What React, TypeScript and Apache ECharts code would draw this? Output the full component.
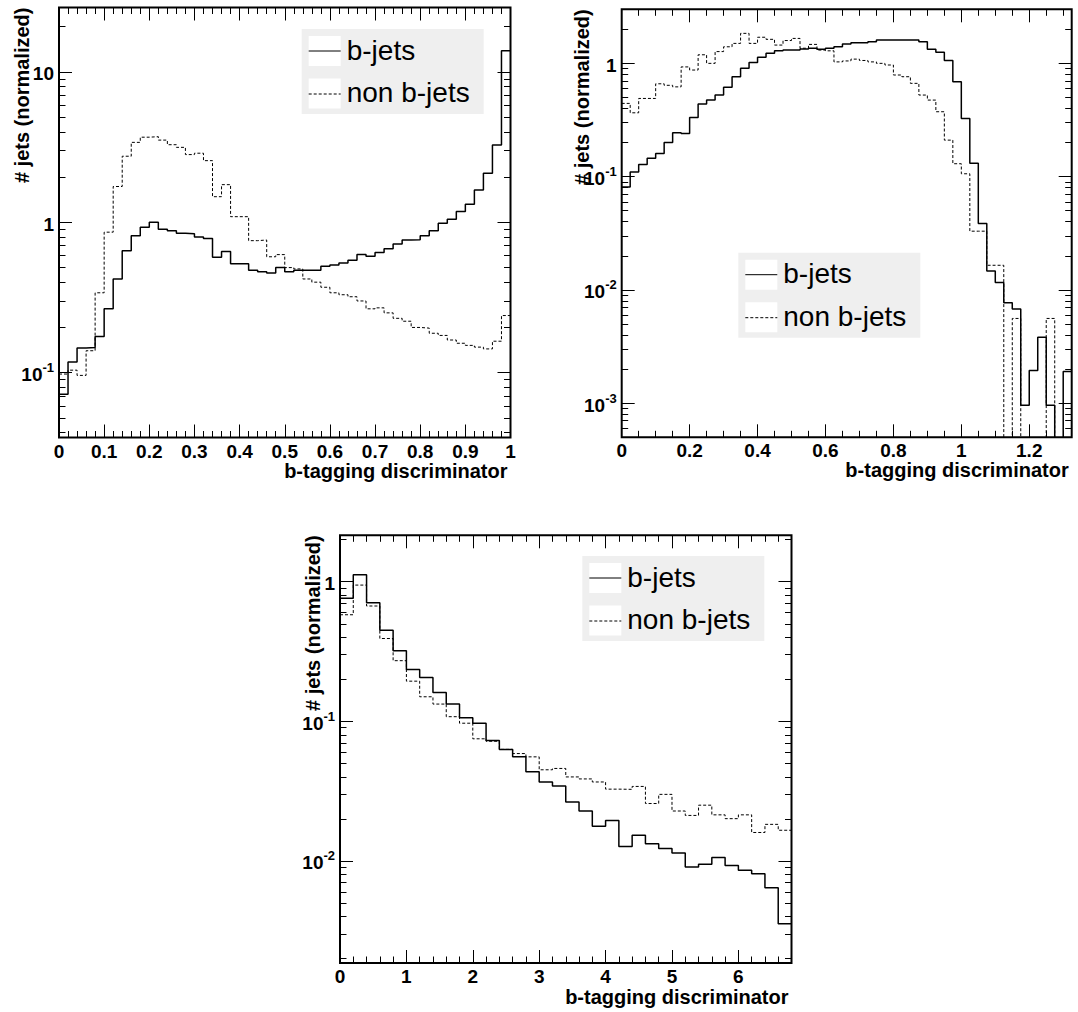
import React, { useEffect, useRef } from 'react';
import * as echarts from 'echarts';

const FONT = '"Liberation Sans", Arial, Helvetica, sans-serif';

// ---------------- Panel 1 (top left) ----------------
const p1XMin = 0;
const p1BinWidth = 0.02;
const p1BJets = [
  0.072, 0.118, 0.146, 0.147, 0.174, 0.266, 0.42, 0.648, 0.815, 0.926,
  1.0, 0.9, 0.88, 0.845, 0.84, 0.8, 0.78, 0.585, 0.64, 0.53,
  0.53, 0.48, 0.47, 0.46, 0.5, 0.47, 0.48, 0.48, 0.48, 0.51,
  0.52, 0.537, 0.56, 0.61, 0.595, 0.63, 0.668, 0.718, 0.763, 0.767,
  0.815, 0.88, 0.985, 1.05, 1.18, 1.32, 1.64, 2.12, 3.27, 13.8,
];
const p1NonBJets = [
  0.098, 0.104, 0.096, 0.14, 0.34, 0.86, 1.73, 2.75, 3.4, 3.68,
  3.71, 3.52, 3.28, 3.15, 2.82, 2.88, 2.57, 1.48, 1.78, 1.09,
  1.09, 0.755, 0.763, 0.59, 0.61, 0.5, 0.49, 0.42, 0.4, 0.37,
  0.34, 0.33, 0.32, 0.3, 0.266, 0.27, 0.25, 0.23, 0.22, 0.2,
  0.198, 0.183, 0.177, 0.165, 0.157, 0.152, 0.148, 0.144, 0.162, 0.24,
];
const p1XTickLabels = [0, 0.1, 0.2, 0.3, 0.4, 0.5, 0.6, 0.7, 0.8, 0.9, 1];
const p1YTickLabels = [0.1, 1, 10];

// ---------------- Panel 2 (top right) ----------------
const p2XMin = 0;
const p2BinWidth = 0.025;
const p2BJets = [
  0.081, 0.11, 0.128, 0.145, 0.16, 0.2, 0.244, 0.24, 0.333, 0.437,
  0.474, 0.525, 0.614, 0.762, 0.903, 1.02, 1.13, 1.23, 1.29, 1.31,
  1.31, 1.34, 1.36, 1.33, 1.36, 1.4, 1.48, 1.52, 1.52, 1.55,
  1.61, 1.61, 1.61, 1.61, 1.61, 1.55, 1.33, 1.25, 1.06, 0.689,
  0.326, 0.131, 0.0385, 0.0147, 0.0116, 0.0077, 0.0068, 0.00096, 0.00194, 0.00383,
  0.00096, 0, 0.0019,
];
const p2NonBJets = [
  0.443, 0.366, 0.49, 0.49, 0.66, 0.64, 0.62, 0.93, 0.873, 1.19,
  1.0, 1.27, 1.4, 1.5, 1.84, 1.5, 1.7, 1.63, 1.45, 1.59,
  1.66, 1.36, 1.47, 1.31, 1.29, 1.03, 1.05, 1.09, 1.06, 1.03,
  1.0, 0.967, 0.789, 0.762, 0.666, 0.525, 0.474, 0.374, 0.21, 0.13,
  0.106, 0.033, 0.033, 0.0165, 0.0165, 0, 0.0056, 0, 0, 0,
  0.0056, 0, 0,
];
const p2XTickLabels = [0, 0.2, 0.4, 0.6, 0.8, 1, 1.2];
const p2YTickLabels = [0.001, 0.01, 0.1, 1];

// ---------------- Panel 3 (bottom) ----------------
const p3XMin = 0;
const p3BinWidth = 0.2;
const p3BJets = [
  0.76, 1.12, 0.707, 0.45, 0.32, 0.235, 0.206, 0.161, 0.133, 0.106,
  0.097, 0.073, 0.063, 0.0557, 0.0435, 0.0368, 0.0345, 0.0265, 0.0228, 0.0177,
  0.0195, 0.0127, 0.0153, 0.0133, 0.0123, 0.0114, 0.00906, 0.00946, 0.0106, 0.0093,
  0.00857, 0.00811, 0.00644, 0.00356,
];
const p3NonBJets = [
  0.58, 0.946, 0.67, 0.392, 0.272, 0.194, 0.15, 0.133, 0.108, 0.097,
  0.075, 0.072, 0.063, 0.0588, 0.0557, 0.045, 0.046, 0.04, 0.0387, 0.0368,
  0.0327, 0.0326, 0.0342, 0.0258, 0.03, 0.0228, 0.0212, 0.0251, 0.0214, 0.0201,
  0.0214, 0.016, 0.0183, 0.0166,
];
const p3XTickLabels = [0, 1, 2, 3, 4, 5, 6];
const p3YTickLabels = [0.01, 0.1, 1];

const legendNames = ['b-jets', 'non b-jets'];
const xTitle = 'b-tagging discriminator';
const yTitle = '# jets (normalized)';

// ---------------- layout (positions/sizes only) ----------------
const PANELS = [
  {
    left: 59, top: 7.5, width: 451.5, height: 430,
    yMin: 0.0371, yMax: 26.8, xInterval: 0.1, xSplit: 5,
    legendX: 301.7, legendY: 29, yTitleX: 21.5, xTitleDy: 33,
    xMin: p1XMin, binW: p1BinWidth, b: p1BJets, n: p1NonBJets,
    xLabels: p1XTickLabels, yLabels: p1YTickLabels,
  },
  {
    left: 621.7, top: 9.3, width: 450, height: 428,
    yMin: 5e-4, yMax: 3.0, xInterval: 0.2, xSplit: 4,
    legendX: 738.3, legendY: 252.7, yTitleX: 581.5, xTitleDy: 33,
    xMin: p2XMin, binW: p2BinWidth, b: p2BJets, n: p2NonBJets,
    xLabels: p2XTickLabels, yLabels: p2YTickLabels,
  },
  {
    left: 340, top: 535.3, width: 451.5, height: 427.7,
    yMin: 0.00186, yMax: 2.15, xInterval: 1, xSplit: 5,
    legendX: 582.3, legendY: 556, yTitleX: 312.5, xTitleDy: 34,
    xMin: p3XMin, binW: p3BinWidth, b: p3BJets, n: p3NonBJets,
    xLabels: p3XTickLabels, yLabels: p3YTickLabels,
  },
];

const EMPTY = 1e-9; // empty bins drawn below the log axis floor (clipped)
const TICK = { color: '#000', width: 1 };

function histData(values: number[], xMin: number, w: number) {
  const pts: number[][] = values.map((v, i) => [xMin + i * w, v > 0 ? v : EMPTY]);
  const last = values[values.length - 1];
  pts.push([xMin + values.length * w, last > 0 ? last : EMPTY]);
  return pts;
}

function logMinors(min: number, max: number) {
  const out: number[] = [];
  for (let e = Math.floor(Math.log10(min)); e <= Math.ceil(Math.log10(max)); e++) {
    for (let k = 2; k <= 9; k++) {
      const v = k * Math.pow(10, e);
      if (v > min && v < max) out.push(v);
    }
  }
  return out;
}

function yLabelFormatter(v: number) {
  const e = Math.round(Math.log10(v));
  if (e === 0) return '{b|1}';
  if (e === 1) return '{b|10}';
  return '{b|10}{s|' + e + '}';
}

function buildOption() {
  const grid: any[] = [];
  const xAxis: any[] = [];
  const yAxis: any[] = [];
  const series: any[] = [];
  const graphic: any[] = [];

  PANELS.forEach((p, g) => {
    const xMax = p.xMin + p.b.length * p.binW;
    grid.push({
      left: p.left, top: p.top, width: p.width, height: p.height,
      show: true, borderColor: '#000', borderWidth: 2, backgroundColor: 'transparent',
      containLabel: false, outerBoundsMode: 'none',
    });

    const xBase = {
      type: 'value', gridIndex: g, min: p.xMin, max: xMax, interval: p.xInterval,
      axisLine: { show: false }, splitLine: { show: false },
      axisTick: { show: true, inside: true, length: 13, lineStyle: TICK },
      minorTick: { show: true, splitNumber: p.xSplit, length: 6.5, lineStyle: TICK },
      minorSplitLine: { show: false },
    };
    xAxis.push({
      ...xBase, position: 'bottom',
      axisLabel: {
        show: true, customValues: p.xLabels, margin: 4, color: '#000',
        fontSize: 19, fontWeight: 'bold', fontFamily: FONT, lineHeight: 19,
        formatter: (v: number) => String(v),
      },
    });
    xAxis.push({ ...xBase, position: 'top', axisLabel: { show: false } });

    const minors = logMinors(p.yMin, p.yMax);
    const yBase = {
      type: 'log', logBase: 10, gridIndex: g, min: p.yMin, max: p.yMax,
      axisLine: { show: false }, splitLine: { show: false },
      minorTick: { show: false }, minorSplitLine: { show: false },
    };
    const yLabel = {
      show: true, customValues: p.yLabels, margin: 5, color: '#000',
      fontFamily: FONT, fontWeight: 'bold', fontSize: 19,
      formatter: yLabelFormatter,
      rich: {
        b: { fontSize: 19, fontWeight: 'bold', fontFamily: FONT, color: '#000', lineHeight: 23, verticalAlign: 'bottom' },
        s: { fontSize: 13, fontWeight: 'bold', fontFamily: FONT, color: '#000', lineHeight: 23, verticalAlign: 'top' },
      },
    };
    ['left', 'right'].forEach((pos) => {
      yAxis.push({
        ...yBase, position: pos,
        axisTick: { show: true, inside: true, length: 13, customValues: p.yLabels, lineStyle: TICK },
        axisLabel: pos === 'left' ? yLabel : { show: false },
      });
      yAxis.push({
        ...yBase, position: pos,
        axisTick: { show: true, inside: true, length: 6.5, customValues: minors, lineStyle: TICK },
        axisLabel: { show: false },
      });
    });

    const yIdx = g * 4;
    const xIdx = g * 2;
    series.push({
      type: 'line', name: legendNames[1], xAxisIndex: xIdx, yAxisIndex: yIdx,
      data: histData(p.n, p.xMin, p.binW), step: 'end', symbol: 'none', showSymbol: false,
      clip: true, silent: true, z: 2,
      lineStyle: { color: '#000', width: 1, type: [3, 2] },
    });
    series.push({
      type: 'line', name: legendNames[0], xAxisIndex: xIdx, yAxisIndex: yIdx,
      data: histData(p.b, p.xMin, p.binW), step: 'end', symbol: 'none', showSymbol: false,
      clip: true, silent: true, z: 3,
      lineStyle: { color: '#000', width: 1.5, type: 'solid' },
    });

    // axis titles
    graphic.push({
      type: 'text', silent: true,
      x: p.left + p.width - 3, y: p.top + p.height + p.xTitleDy,
      style: {
        text: xTitle, fill: '#000', fontSize: 20, fontWeight: 'bold', fontFamily: FONT,
        align: 'right', verticalAlign: 'middle', textAlign: 'right', textVerticalAlign: 'middle',
      },
    });
    graphic.push({
      type: 'text', silent: true, x: p.yTitleX, y: p.top, rotation: Math.PI / 2,
      style: {
        text: yTitle, fill: '#000', fontSize: 20, fontWeight: 'bold', fontFamily: FONT,
        align: 'right', verticalAlign: 'middle', textAlign: 'right', textVerticalAlign: 'middle',
      },
    });

    // legend box
    graphic.push({
      type: 'group', x: p.legendX, y: p.legendY, silent: true,
      children: [
        { type: 'rect', shape: { x: 0, y: 0, width: 182, height: 85 }, style: { fill: '#efefef' } },
        { type: 'rect', shape: { x: 7, y: 7, width: 32, height: 30 }, style: { fill: '#fff' } },
        { type: 'rect', shape: { x: 7, y: 49.5, width: 32, height: 30 }, style: { fill: '#fff' } },
        { type: 'line', shape: { x1: 7, y1: 22, x2: 39, y2: 22 }, style: { stroke: '#000', lineWidth: 1 } },
        { type: 'line', shape: { x1: 7, y1: 65, x2: 39, y2: 65 }, style: { stroke: '#000', lineWidth: 1, lineDash: [3, 2] } },
        {
          type: 'text', x: 45, y: 21,
          style: { text: legendNames[0], fill: '#000', fontSize: 28, fontFamily: FONT, align: 'left', verticalAlign: 'middle', textAlign: 'left', textVerticalAlign: 'middle' },
        },
        {
          type: 'text', x: 45, y: 63.5,
          style: { text: legendNames[1], fill: '#000', fontSize: 28, fontFamily: FONT, align: 'left', verticalAlign: 'middle', textAlign: 'left', textVerticalAlign: 'middle' },
        },
      ],
    });
  });

  return {
    animation: false,
    backgroundColor: '#fff',
    textStyle: { fontFamily: FONT },
    grid, xAxis, yAxis, series, graphic,
  };
}

export default function App() {
  const ref = useRef<HTMLDivElement>(null);
  useEffect(() => {
    if (!ref.current) return;
    const chart = echarts.init(ref.current, undefined, { renderer: 'svg' });
    chart.setOption(buildOption() as any);
    return () => chart.dispose();
  }, []);
  return (
    <div
      ref={ref}
      style={{ position: 'fixed', left: 0, top: 0, width: 1078, height: 1012, background: '#fff' }}
    />
  );
}
